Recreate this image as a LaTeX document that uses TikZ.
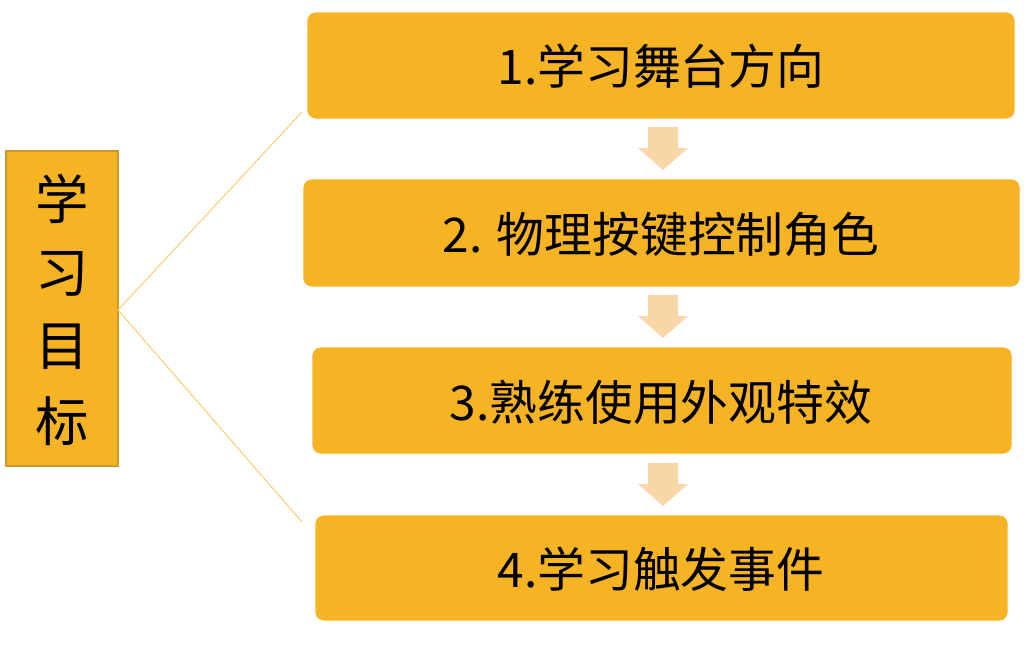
\documentclass[tikz,border=0pt]{standalone}
\usepackage{fontspec}
\newfontfamily\cjk{Noto Sans CJK SC}
\definecolor{boxfill}{HTML}{F6B324}
\definecolor{boxedge}{HTML}{C99A2E}
\definecolor{arrowc}{HTML}{F9D6A8}
\definecolor{linec}{HTML}{F8CB70}
\begin{document}
\begin{tikzpicture}[x=0.025cm,y=-0.025cm,
  stepbox/.style={fill=boxfill,draw=white,line width=0.6pt,rounded corners=6pt},
  steptext/.style={font=\cjk\fontsize{34}{40}\selectfont,text=black,anchor=center},
  goaltext/.style={font=\cjk\fontsize{38}{40}\selectfont,text=black,anchor=center,inner sep=0pt}]
\useasboundingbox (0,0) rectangle (1024,647);
% left box
\draw[draw=boxedge,fill=boxfill,line width=0.8pt] (6,151) rectangle (118,466);
\coordinate (goal) at (118,310);
\node[goaltext] (g1) at (62,199) {学};
\node[goaltext] (g2) at (62,274) {习};
\node[goaltext] (g3) at (62,347) {目};
\node[goaltext] (g4) at (62,421) {标};
% step boxes
\path[stepbox] (307,12) rectangle (1015,119);
\node[steptext] (s1) at (661,66) {1.学习舞台方向};
\path[stepbox] (303,179) rectangle (1020,287);
\node[steptext] (s2) at (661,234) {2. 物理按键控制角色};
\path[stepbox] (312,347) rectangle (1012,454);
\node[steptext] (s3) at (661,402) {3.熟练使用外观特效};
\path[stepbox] (315,515) rectangle (1008,621);
\node[steptext] (s4) at (661,569) {4.学习触发事件};
% connectors
\coordinate (c1) at (302,112);
\coordinate (c2) at (302,522);
\draw[linec,line width=0.7pt] (c1) -- (goal) -- (c2);
% arrows
\foreach \y in {127,295,463}{
  \fill[arrowc] (648,\y) -- (678,\y) -- (678,\y+21) -- (688,\y+21) -- (663,\y+43) -- (638,\y+21) -- (648,\y+21) -- cycle;
}
\end{tikzpicture}
\end{document}
